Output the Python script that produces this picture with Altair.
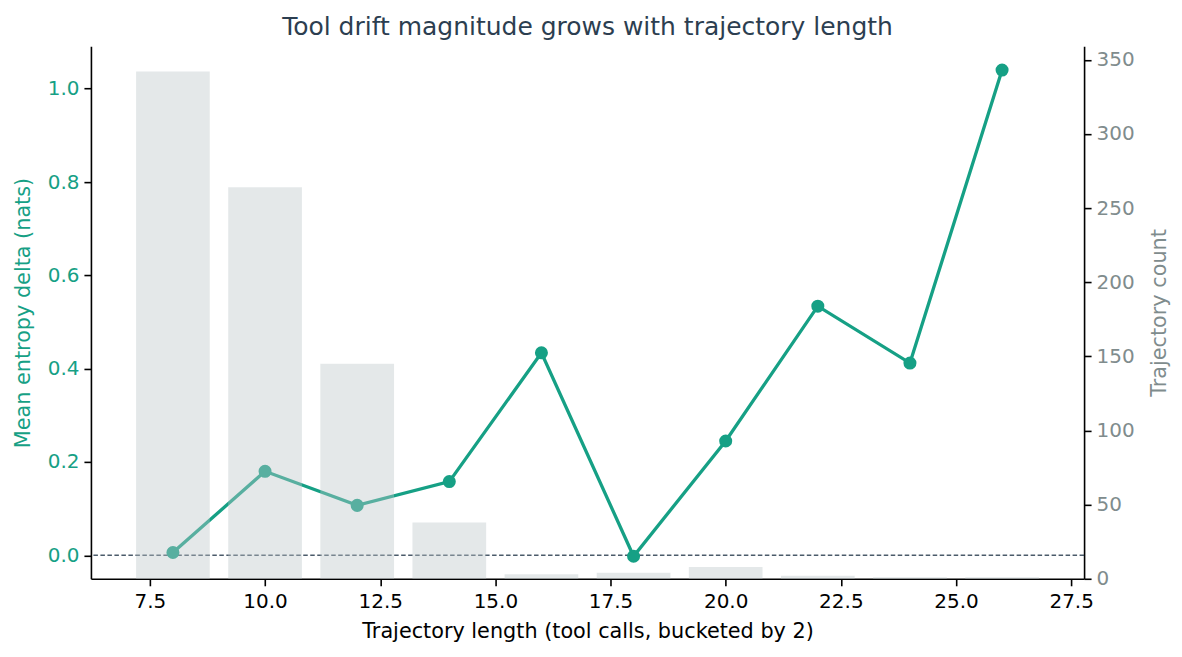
import altair as alt
import pandas as pd

# Data
lengths = [8, 10, 12, 14, 16, 18, 20, 22, 24, 26]
entropy_delta = [0.006, 0.180, 0.107, 0.158, 0.434, -0.002, 0.245, 0.534, 0.412, 1.040]
traj_count = [342, 264, 145, 38, 3, 4, 8, 2, 1, 1]
x_ticks = [7.5, 10.0, 12.5, 15.0, 17.5, 20.0, 22.5, 25.0, 27.5]
left_ticks = [0.0, 0.2, 0.4, 0.6, 0.8, 1.0]
right_ticks = [0, 50, 100, 150, 200, 250, 300, 350]

TEAL = "#16a085"
GRAY = "#7f8c8d"
DARK = "#2c3e50"
FONT = "DejaVu Sans"
TICK_FS = 20
LABEL_FS = 20.8

df = pd.DataFrame({"length": lengths, "delta": entropy_delta, "count": traj_count})
zero_df = pd.DataFrame({"zero": [0.0]})

x_scale = alt.Scale(domain=[6.22, 27.78], nice=False, zero=False)
y_left = alt.Scale(domain=[-0.0503, 1.091], nice=False, zero=False)
y_right = alt.Scale(domain=[0, 359.1], nice=False, zero=False)

x_axis = alt.Axis(
    values=x_ticks, format=".1f", title="Trajectory length (tool calls, bucketed by 2)",
    grid=False, domainColor="black", domainWidth=1.6, tickColor="black", tickWidth=1.6,
    tickSize=7, labelColor="black", labelFontSize=TICK_FS, labelPadding=6,
    titleFontSize=LABEL_FS, titleFontWeight="normal", titleColor="black", titlePadding=10,
    labelFont=FONT, titleFont=FONT,
)

left_axis = alt.Axis(
    values=left_ticks, format=".1f", title="Mean entropy delta (nats)",
    grid=False, domainColor="black", domainWidth=1.6, tickColor="black", tickWidth=1.6,
    tickSize=7, labelColor=TEAL, labelFontSize=TICK_FS, labelPadding=5,
    titleColor=TEAL, titleFontSize=LABEL_FS, titleFontWeight="normal", titlePadding=14,
    labelFont=FONT, titleFont=FONT,
)

line = alt.Chart(df).mark_line(color=TEAL, strokeWidth=3.3).encode(
    x=alt.X("length:Q", scale=x_scale, axis=x_axis),
    y=alt.Y("delta:Q", scale=y_left, axis=left_axis),
)

rule = alt.Chart(zero_df).mark_rule(
    color=DARK, strokeDash=[4.5, 2.5], strokeWidth=1.4, opacity=0.85
).encode(y=alt.Y("zero:Q", scale=y_left, axis=left_axis))

points = alt.Chart(df).mark_circle(color=TEAL, size=170, opacity=1).encode(
    x=alt.X("length:Q", scale=x_scale, axis=x_axis),
    y=alt.Y("delta:Q", scale=y_left, axis=left_axis),
)

left_layer = alt.layer(line, rule, points)

bars = alt.Chart(df).transform_calculate(
    x0="datum.length - 0.8", x1="datum.length + 0.8"
).mark_rect(color="#bbc5c7", opacity=0.4).encode(
    x=alt.X("x0:Q", scale=x_scale, axis=x_axis),
    x2="x1:Q",
    y=alt.Y("count:Q", scale=y_right, axis=alt.Axis(
        values=right_ticks, orient="right", title="Trajectory count",
        grid=False, domainColor="black", domainWidth=1.6, tickColor="black", tickWidth=1.6,
        tickSize=7, labelColor=GRAY, labelFontSize=TICK_FS, labelPadding=5,
        titleColor=GRAY, titleFontSize=LABEL_FS, titleFontWeight="normal", titlePadding=35,
        titleAngle=270, labelFont=FONT, titleFont=FONT,
    )),
    y2=alt.Y2(datum=0),
)

chart = alt.layer(left_layer, bars).resolve_scale(y="independent").properties(
    width=994,
    height=533,
    autosize=alt.AutoSizeParams(type="none"),
    padding={"left": 83, "top": 38, "right": 90, "bottom": 70},
    title=alt.TitleParams(
        "Tool drift magnitude grows with trajectory length",
        font=FONT, fontSize=25, fontWeight="normal", color=DARK,
        anchor="middle", offset=6,
    ),
).configure(background="white").configure_view(stroke=None)

chart.save("out.html", embed_options={"renderer": "svg", "actions": False})
